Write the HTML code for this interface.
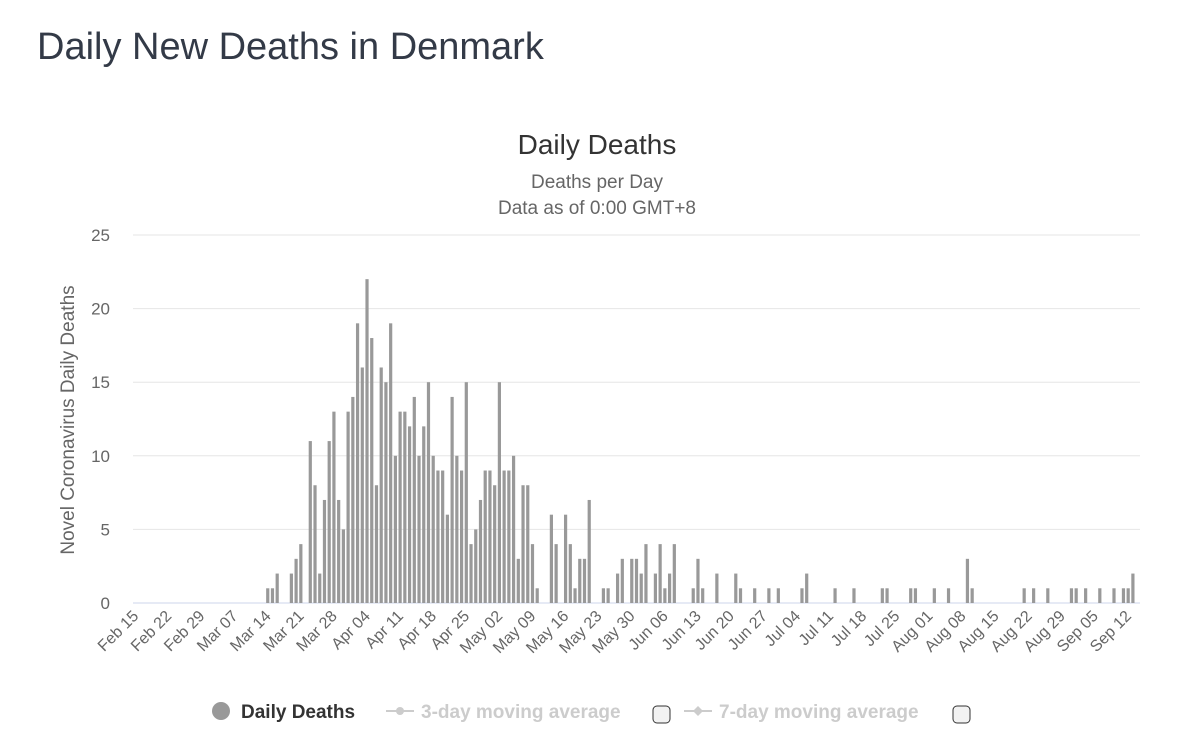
<!DOCTYPE html>
<html><head><meta charset="utf-8"><style>
body{margin:0;background:#fff;font-family:"Liberation Sans",sans-serif;}
#wrap{position:relative;width:1200px;height:751px;overflow:hidden;}
h1{position:absolute;left:37px;top:26px;margin:0;font-weight:normal;font-size:38px;color:#333a47;}
</style></head><body>
<div id="wrap">
<h1>Daily New Deaths in Denmark</h1>
<svg id="chart" width="1200" height="751" style="position:absolute;left:0;top:0"></svg>
</div>
<script>
const days=[28,29,30,33,34,35,37,38,39,40,41,42,43,44,45,46,47,48,49,50,51,52,53,54,55,56,57,58,59,60,61,62,63,64,65,66,67,68,69,70,71,72,73,74,75,76,77,78,79,80,81,82,83,84,85,88,89,91,92,93,94,95,96,99,100,102,103,105,106,107,108,110,111,112,113,114,118,119,120,123,127,128,131,134,136,141,142,148,152,158,159,164,165,169,172,176,177,188,190,193,198,199,201,204,207,209,210,211];
const deaths=[1,1,2,2,3,4,11,8,2,7,11,13,7,5,13,14,19,16,22,18,8,16,15,19,10,13,13,12,14,10,12,15,10,9,9,6,14,10,9,15,4,5,7,9,9,8,15,9,9,10,3,8,8,4,1,6,4,6,4,1,3,3,7,1,1,2,3,3,3,2,4,2,4,1,2,4,1,3,1,2,2,1,1,1,1,1,2,1,1,1,1,1,1,1,1,3,1,1,1,1,1,1,1,1,1,1,1,2];
const xLabels=["Feb 15","Feb 22","Feb 29","Mar 07","Mar 14","Mar 21","Mar 28","Apr 04","Apr 11","Apr 18","Apr 25","May 02","May 09","May 16","May 23","May 30","Jun 06","Jun 13","Jun 20","Jun 27","Jul 04","Jul 11","Jul 18","Jul 25","Aug 01","Aug 08","Aug 15","Aug 22","Aug 29","Sep 05","Sep 12"];
const yTicks=[0,5,10,15,20,25];
const NS="http://www.w3.org/2000/svg";
const svg=document.getElementById('chart');
const L=133,R=1140,T=235,B=603,ND=213,YMAX=25;
const dw=(R-L)/ND;
const xd=d=>L+dw*(d+0.5);
const y=v=>B-(v/YMAX)*(B-T);
function el(t,a,txt){const e=document.createElementNS(NS,t);for(const k in a)e.setAttribute(k,a[k]);if(txt!==undefined)e.textContent=txt;svg.appendChild(e);return e;}
let e;
e=el('text',{x:597,y:154,'text-anchor':'middle','font-size':28,fill:'#333'},'Daily Deaths');


e=el('text',{x:597,y:188,'text-anchor':'middle','font-size':19,fill:'#666'},'Deaths per Day');


e=el('text',{x:597,y:214,'text-anchor':'middle','font-size':19,fill:'#666'},'Data as of 0:00 GMT+8');


yTicks.forEach(v=>{
 e=el('line',{x1:L,x2:R,y1:y(v),y2:y(v),stroke:v===0?'#ccd6eb':'#e6e6e6','stroke-width':1});
 
 
 e=el('text',{x:110,y:y(v)+6,'text-anchor':'end','font-size':17,fill:'#666'},v);
 
 
});
e=el('text',{x:0,y:0,'text-anchor':'middle','font-size':19,fill:'#666',transform:`translate(74,${(T+B)/2+1}) rotate(-90)`},'Novel Coronavirus Daily Deaths');


xLabels.forEach((lab,i)=>{
 const x=xd(i*7)+4;
 e=el('text',{x:0,y:0,'text-anchor':'end','font-size':16,fill:'#666',transform:`translate(${x},617) rotate(-45)`},lab);
 
 
});
days.forEach((d,i)=>{
 const v=deaths[i];
 e=el('rect',{x:xd(d)-1.6,y:y(v),width:3.2,height:B-y(v),fill:'#999'});
 
 
});
e=el('circle',{cx:221,cy:711,r:9,fill:'#999'});


e=el('text',{x:241,y:718,'font-size':19,'font-weight':'bold',fill:'#333'},'Daily Deaths');


e=el('line',{x1:386,x2:414,y1:711,y2:711,stroke:'#ccc','stroke-width':2});


e=el('circle',{cx:400,cy:711,r:4,fill:'#ccc'});


e=el('text',{x:421,y:718,'font-size':19,'font-weight':'bold',fill:'#ccc'},'3-day moving average');


e=el('rect',{x:653,y:706,width:17,height:17,rx:4,fill:'#f2f2f2',stroke:'#333','stroke-width':1});


e=el('line',{x1:684,x2:712,y1:711,y2:711,stroke:'#ccc','stroke-width':2});


e=el('path',{d:'M698 706 L703 711 L698 716 L693 711 Z',fill:'#ccc'});


e=el('text',{x:719,y:718,'font-size':19,'font-weight':'bold',fill:'#ccc'},'7-day moving average');


e=el('rect',{x:953,y:706,width:17,height:17,rx:4,fill:'#f2f2f2',stroke:'#333','stroke-width':1});


</script>
</body></html>
